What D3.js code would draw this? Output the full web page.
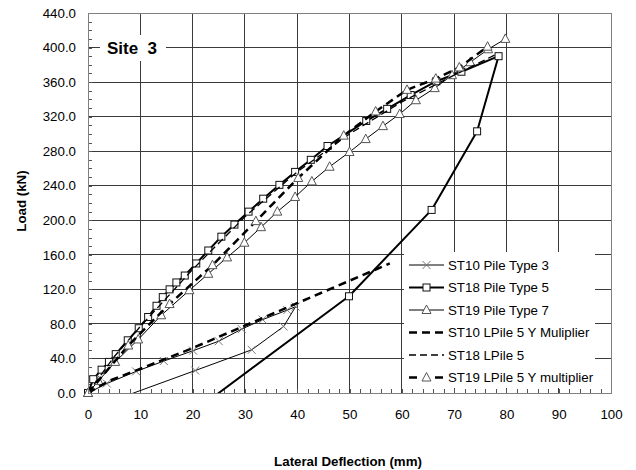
<!DOCTYPE html>
<html>
<head>
<meta charset="utf-8">
<script src="https://cdn.jsdelivr.net/npm/d3@7"></script>
<style>
  body { margin: 0; background: #fff; }
  svg { display: block; font-family: 'Liberation Sans', Arial, sans-serif; }
</style>
</head>
<body>
<div class="d3-content"></div>
<script>
/************************/
/*      Dimensions      */
/************************/
const width = 636;
const height = 470;
const plot = { left: 88, right: 611, top: 13, bottom: 393 };

/**********************/
/*        Data        */
/**********************/
// deflection (mm) / load (kN)
const st10PileX = [0, 3.6, 9.2, 14.5, 20.1, 25.0, 29.4, 33.4, 38.1, 39.7, 37.4, 31.3, 20.5, 6.0];
const st10PileY = [0, 11, 25, 37, 49, 60, 74, 85, 96, 100, 77, 50, 26, -6];

const st18PileX = [0, 1.0, 2.6, 4.0, 5.3, 7.6, 9.7, 11.5, 13.1, 14.3, 15.6, 16.9, 18.5, 20.7, 23.0, 25.5, 28.0, 30.7, 33.5, 36.6, 39.6, 42.6, 45.8, 53.2, 57.2, 61.7, 66.6, 71.4, 78.5, 74.4, 65.7, 49.9, 23.0];
const st18PileY = [0, 16, 27, 36, 45, 61, 75, 88, 101, 111, 120, 128, 136, 150, 165, 181, 195, 210, 225, 241, 256, 270, 286, 315, 329, 345, 361, 372, 390, 303, 212, 112, -9];

const st19PileX = [0, 2.0, 5.2, 9.6, 14.0, 19.4, 23.0, 26.6, 29.9, 33.1, 36.2, 39.6, 42.8, 46.2, 50.0, 53.1, 56.4, 59.6, 62.7, 66.3, 69.6, 73.1, 76.5, 79.8];
const st19PileY = [0, 14, 36, 62, 90, 119, 138, 157, 174, 192, 210, 227, 245, 262, 279, 294, 309, 323, 339, 353, 368, 383, 398, 410];

const st10LPileX = [0, 4, 10, 20, 30, 40, 57.7];
const st10LPileY = [0, 14, 28, 52, 78, 104, 150];

const st18LPileX = [0, 5, 10, 20, 30, 40, 50, 60, 70, 78];
const st18LPileY = [0, 42, 77, 143, 204, 256, 300, 337, 368, 392];

const st19LPileX = [0, 7.7, 15.6, 23.8, 32.1, 40.2, 48.9, 55.0, 61.0, 66.5, 71.0, 76.4];
const st19LPileY = [0, 55, 103, 148, 199, 249, 298, 326, 351, 364, 377, 401];

const seriesNames = [
  'ST10 Pile Type 3',
  'ST18 Pile Type 5',
  'ST19 Pile Type 7',
  'ST10 LPile 5 Y Muliplier',
  'ST18 LPile 5',
  'ST19 LPile 5 Y multiplier'
];

const xTicks = [0, 10, 20, 30, 40, 50, 60, 70, 80, 90, 100];
const yTicks = [0, 40, 80, 120, 160, 200, 240, 280, 320, 360, 400, 440];

/**********************/
/*   Series styling   */
/**********************/
const styles = [
  { width: 1, dash: null, marker: 'x' },
  { width: 2, dash: null, marker: 'square' },
  { width: 1, dash: null, marker: 'triangle' },
  { width: 2.5, dash: '8,5', marker: null },
  { width: 1.3, dash: '7,4', marker: null },
  { width: 2.5, dash: '8,5', marker: 'triangle' }
];

const zip = (xs, ys) => xs.map((x, i) => ({ x, y: ys[i] }));
const series = [
  zip(st10PileX, st10PileY),
  zip(st18PileX, st18PileY),
  zip(st19PileX, st19PileY),
  zip(st10LPileX, st10LPileY),
  zip(st18LPileX, st18LPileY),
  zip(st19LPileX, st19LPileY)
].map((values, i) => ({ name: seriesNames[i], values, ...styles[i] }));

/****************************/
/*    Declare the scales    */
/****************************/
const xScale = d3.scaleLinear().domain([0, 100]).range([plot.left, plot.right]);
const yScale = d3.scaleLinear().domain([0, 440]).range([plot.bottom, plot.top]);

const svg = d3.select('.d3-content')
  .append('svg')
    .attr('width', width)
    .attr('height', height);

svg.append('rect')
  .attr('width', width)
  .attr('height', height)
  .attr('fill', '#fff');

svg.append('clipPath')
  .attr('id', 'plot-clip')
  .append('rect')
    .attr('x', plot.left)
    .attr('y', plot.top)
    .attr('width', plot.right - plot.left)
    .attr('height', plot.bottom - plot.top);

/**********************/
/*      Gridlines     */
/**********************/
const grid = svg.append('g')
  .attr('stroke', '#3a3a3a')
  .attr('stroke-width', 1)
  .attr('shape-rendering', 'crispEdges');

grid.selectAll('.vg')
  .data(xTicks.slice(1, -1))
  .join('line')
    .attr('x1', d => xScale(d))
    .attr('x2', d => xScale(d))
    .attr('y1', plot.top)
    .attr('y2', plot.bottom);

grid.selectAll('.hg')
  .data(yTicks.slice(1, -1))
  .join('line')
    .attr('x1', plot.left)
    .attr('x2', plot.right)
    .attr('y1', d => yScale(d))
    .attr('y2', d => yScale(d));

// minor ticks pointing inward
svg.append('g')
  .attr('transform', `translate(0, ${plot.bottom})`)
  .call(d3.axisBottom(xScale).tickValues(d3.range(0, 101, 2)).tickSize(-4).tickFormat(''))
  .call(g => g.select('.domain').remove())
  .call(g => g.selectAll('line').attr('stroke', '#555').attr('shape-rendering', 'crispEdges'));

svg.append('g')
  .attr('transform', `translate(${plot.left}, 0)`)
  .call(d3.axisLeft(yScale).tickValues(d3.range(0, 441, 10)).tickSize(-4).tickFormat(''))
  .call(g => g.select('.domain').remove())
  .call(g => g.selectAll('line').attr('stroke', '#555').attr('shape-rendering', 'crispEdges'));

/*************************/
/*      Site label       */
/*************************/
svg.append('rect')
  .attr('x', 100)
  .attr('y', 35)
  .attr('width', 66)
  .attr('height', 26)
  .attr('fill', '#fff');
svg.append('text')
  .attr('x', 107)
  .attr('y', 54)
  .attr('font-size', 17)
  .attr('font-weight', 'bold')
  .attr('xml:space', 'preserve')
  .style('white-space', 'pre')
  .text('Site  3');

/*************************/
/*        Legend         */
/*************************/
const legend = svg.append('g');
legend.append('rect')
  .attr('x', 404)
  .attr('y', 252)
  .attr('width', 191)
  .attr('height', 136)
  .attr('fill', '#fff');

/*************************/
/*     Marker helper     */
/*************************/
const drawMarker = (sel, type) => {
  if (type === 'square') {
    sel.append('rect')
      .attr('x', -3.5).attr('y', -3.5)
      .attr('width', 7).attr('height', 7)
      .attr('fill', '#fff')
      .attr('stroke', '#111')
      .attr('stroke-width', 1);
  } else if (type === 'triangle') {
    sel.append('path')
      .attr('d', 'M0,-5L4.5,3.5L-4.5,3.5Z')
      .attr('fill', '#fff')
      .attr('stroke', '#555')
      .attr('stroke-width', 1);
  } else if (type === 'x') {
    sel.append('path')
      .attr('d', 'M-4,-4L4,4M-4,4L4,-4')
      .attr('fill', 'none')
      .attr('stroke', '#777')
      .attr('stroke-width', 1);
  }
};

/*************************/
/*      The series       */
/*************************/
const lineGen = d3.line()
  .x(d => xScale(d.x))
  .y(d => yScale(d.y));

series.forEach(s => {
  const g = svg.append('g');
  g.append('path')
    .attr('d', lineGen(s.values))
    .attr('clip-path', 'url(#plot-clip)')
    .attr('fill', 'none')
    .attr('stroke', '#000')
    .attr('stroke-width', s.width)
    .attr('stroke-dasharray', s.dash)
    .attr('stroke-linejoin', 'round');

  if (s.marker) {
    g.selectAll('.m')
      .data(s.values.filter(d => d.y >= 0))
      .join('g')
        .attr('transform', d => `translate(${xScale(d.x)}, ${yScale(d.y)})`)
        .each(function() { drawMarker(d3.select(this), s.marker); });
  }
});

// legend entries
series.forEach((s, i) => {
  const y = 265 + i * 22.5;
  const row = legend.append('g').attr('transform', `translate(0, ${y})`);
  row.append('line')
    .attr('x1', 409).attr('x2', 444)
    .attr('y1', 0).attr('y2', 0)
    .attr('stroke', '#000')
    .attr('stroke-width', s.width)
    .attr('stroke-dasharray', s.dash);
  if (s.marker) {
    const m = row.append('g').attr('transform', 'translate(426.5, 0)');
    if (s.dash) {
      m.append('rect').attr('x', -5).attr('y', -6).attr('width', 10).attr('height', 12).attr('fill', '#fff');
    }
    drawMarker(m, s.marker);
  }
  row.append('text')
    .attr('x', 448)
    .attr('y', 0)
    .attr('dy', '0.35em')
    .attr('font-size', 13.3)
    .text(s.name);
});

/*************************/
/*   Border and axes     */
/*************************/
svg.append('rect')
  .attr('x', plot.left)
  .attr('y', plot.top)
  .attr('width', plot.right - plot.left)
  .attr('height', plot.bottom - plot.top)
  .attr('fill', 'none')
  .attr('stroke', '#808080')
  .attr('shape-rendering', 'crispEdges');

svg.append('g')
  .attr('transform', `translate(0, ${plot.bottom})`)
  .call(d3.axisBottom(xScale).tickValues(xTicks).tickSize(0).tickPadding(17))
  .call(g => g.select('.domain').remove())
  .call(g => g.selectAll('text').attr('font-size', 13.3).attr('font-family', null).attr('fill', '#000'));

svg.append('g')
  .attr('transform', `translate(${plot.left}, 0)`)
  .call(d3.axisLeft(yScale).tickValues(yTicks).tickSize(0).tickPadding(12).tickFormat(d3.format('.1f')))
  .call(g => g.select('.domain').remove())
  .call(g => g.selectAll('text').attr('font-size', 13.3).attr('font-family', null).attr('fill', '#000'));

svg.append('text')
  .attr('transform', 'translate(26, 201) rotate(-90)')
  .attr('text-anchor', 'middle')
  .attr('font-size', 13.3)
  .attr('font-weight', 'bold')
  .text('Load (kN)');

svg.append('text')
  .attr('x', 348)
  .attr('y', 466)
  .attr('text-anchor', 'middle')
  .attr('font-size', 13.3)
  .attr('font-weight', 'bold')
  .text('Lateral Deflection (mm)');
</script>
</body>
</html>
